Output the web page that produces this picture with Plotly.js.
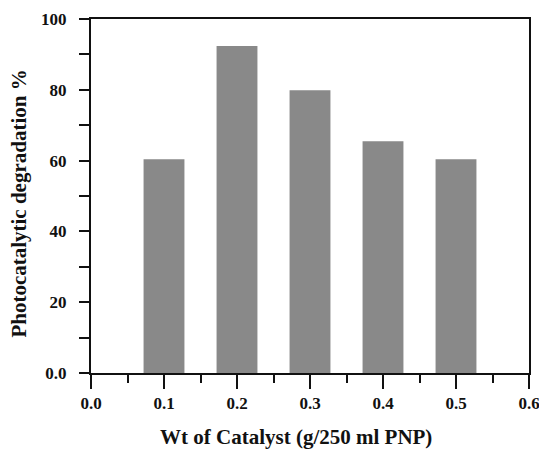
<!DOCTYPE html>
<html>
<head>
<meta charset="utf-8">
<script src="https://cdn.plot.ly/plotly-3.0.1.min.js"></script>
<style>html,body{margin:0;padding:0;background:#fff;}#chart{width:539px;height:449px;}</style>
</head>
<body>
<div id="chart"></div>
<script>
const catalystWt = [0.1, 0.2, 0.3, 0.4, 0.5];
const degradation = [60.4, 92.4, 79.9, 65.5, 60.4];
const xTickVals = [0.0, 0.1, 0.2, 0.3, 0.4, 0.5, 0.6];
const xTickText = ["0.0", "0.1", "0.2", "0.3", "0.4", "0.5", "0.6"];
const yTickVals = [0, 20, 40, 60, 80, 100];
const yTickText = ["0.0", "20", "40", "60", "80", "100"];
const xTitle = "Wt of Catalyst (g/250 ml PNP)";
const yTitle = "Photocatalytic degradation %";

const fam = "Liberation Serif, Times New Roman, serif";

Plotly.newPlot("chart", [{
  type: "bar",
  x: catalystWt,
  y: degradation,
  width: 0.056,
  marker: {color: "#898989", line: {width: 0}},
  hoverinfo: "skip"
}], {
  width: 539, height: 449,
  margin: {l: 91, r: 10, t: 19, b: 76},
  paper_bgcolor: "#fff", plot_bgcolor: "#fff",
  font: {family: fam, color: "#111", size: 17},
  showlegend: false,
  xaxis: {
    range: [0, 0.6],
    tickmode: "array", tickvals: xTickVals, ticktext: xTickText,
    ticks: "outside", ticklen: 14, tickwidth: 2, tickcolor: "#111",
    minor: {tickmode: "array", tickvals: [0.05, 0.15, 0.25, 0.35, 0.45, 0.55], ticks: "outside", ticklen: 8, tickwidth: 2, tickcolor: "#111"},
    showline: true, linewidth: 2, linecolor: "#111", mirror: true,
    showgrid: false, zeroline: false,
    ticklabeloverflow: "allow",
    tickfont: {family: fam, size: 17, color: "#111", weight: "bold"}
  },
  yaxis: {
    range: [0, 100],
    tickmode: "array", tickvals: yTickVals, ticktext: yTickText,
    ticks: "outside", ticklen: 10, tickwidth: 2, tickcolor: "#111",
    minor: {tickmode: "array", tickvals: [10, 30, 50, 70, 90], ticks: "outside", ticklen: 10, tickwidth: 2, tickcolor: "#111"},
    showline: true, linewidth: 2, linecolor: "#111", mirror: true,
    showgrid: false, zeroline: false,
    ticklabelstandoff: 9,
    tickfont: {family: fam, size: 17, color: "#111", weight: "bold"}
  },
  annotations: [
    {text: "<b>" + xTitle + "</b>", xref: "paper", yref: "paper", x: 0.468, y: -0.180,
     xanchor: "center", yanchor: "middle", showarrow: false, font: {family: fam, size: 21, color: "#111"}},
    {text: "<b>" + yTitle + "</b>", xref: "paper", yref: "paper", x: -0.164, y: 0.479, textangle: -90,
     xanchor: "center", yanchor: "middle", showarrow: false, font: {family: fam, size: 21, color: "#111"}}
  ]
}, {displayModeBar: false, staticPlot: true});
</script>
</body>
</html>
